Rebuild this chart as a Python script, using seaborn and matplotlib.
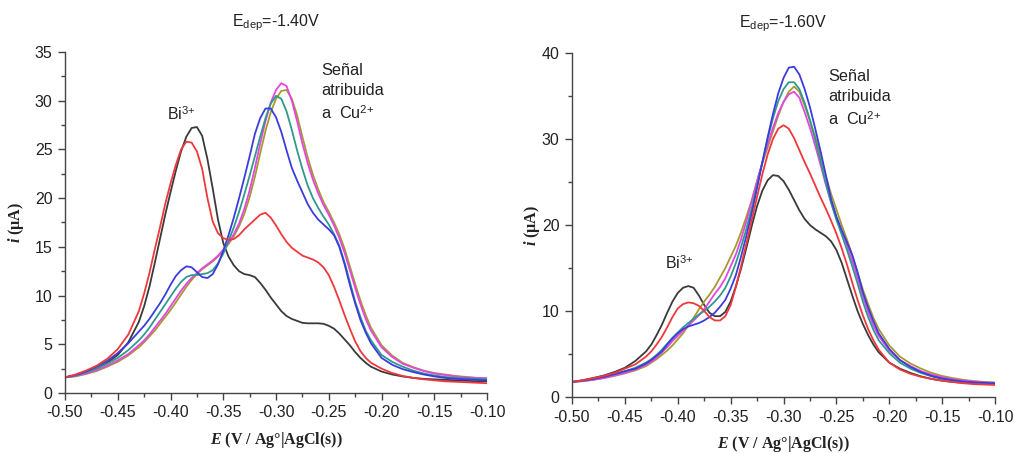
import numpy as np
import pandas as pd
import matplotlib
matplotlib.use("Agg")
import matplotlib.pyplot as plt
from matplotlib.ticker import MultipleLocator, FormatStrFormatter
import seaborn as sns

# ---------------- data ----------------
E = [-0.50, -0.49, -0.48, -0.47, -0.46, -0.45, -0.44, -0.43,
     -0.425, -0.420, -0.415, -0.410, -0.405, -0.400, -0.395, -0.390, -0.385, -0.380,
     -0.375, -0.370, -0.365, -0.360, -0.355, -0.350, -0.345, -0.340, -0.335, -0.330,
     -0.325, -0.320, -0.315, -0.310, -0.305, -0.300, -0.295, -0.290, -0.285, -0.280,
     -0.275, -0.270, -0.265, -0.260, -0.255, -0.250, -0.245, -0.240, -0.235, -0.230,
     -0.225, -0.220, -0.215,
     -0.21, -0.20, -0.19, -0.18, -0.17, -0.16, -0.15, -0.14, -0.13, -0.12, -0.11, -0.10]

# Edep = -1.40 V
L_black = [1.6, 1.8, 2.1, 2.5, 3.1, 3.9, 5.2, 7.3,
           8.9, 10.9, 13.3, 15.8, 18.3, 20.6, 22.8, 24.8, 26.3, 27.2,
           27.3, 26.4, 24.0, 21.0, 17.8, 15.4, 14.0, 13.1, 12.5, 12.2,
           12.1, 11.9, 11.3, 10.6, 9.8, 9.1, 8.4, 7.9, 7.6, 7.4,
           7.2, 7.15, 7.15, 7.15, 7.1, 6.9, 6.6, 6.1, 5.5, 4.9,
           4.2, 3.6, 3.1,
           2.7, 2.2, 1.9, 1.7, 1.55, 1.45, 1.4, 1.35, 1.3, 1.25, 1.2, 1.2]
L_red = [1.6, 1.9, 2.3, 2.8, 3.5, 4.5, 6.0, 8.4,
         10.2, 12.3, 14.7, 17.0, 19.4, 21.5, 23.4, 25.0, 25.8, 25.7,
         24.8, 23.0, 20.0, 17.6, 16.4, 15.9, 15.7, 15.8, 16.2, 16.8,
         17.3, 17.8, 18.3, 18.5, 18.0, 17.2, 16.3, 15.5, 14.9, 14.5,
         14.1, 13.9, 13.7, 13.4, 12.9, 12.1, 10.9, 9.5, 8.0, 6.6,
         5.3, 4.3, 3.6,
         3.1, 2.5, 2.05, 1.75, 1.55, 1.4, 1.3, 1.2, 1.15, 1.1, 1.05, 1.0]
L_blue = [1.6, 1.85, 2.2, 2.7, 3.3, 4.1, 5.1, 6.3,
          6.9, 7.6, 8.4, 9.2, 10.1, 11.1, 12.0, 12.6, 13.0, 12.9,
          12.4, 11.9, 11.8, 12.2, 13.2, 14.6, 16.2, 18.0, 20.0, 22.1,
          24.3, 26.6, 28.2, 29.2, 29.2, 28.3, 26.8, 24.9, 23.1, 21.8,
          20.6, 19.4, 18.5, 17.8, 17.3, 16.8, 16.2, 15.0, 13.2, 11.1,
          9.2, 7.5, 6.2,
          5.1, 3.6, 2.9, 2.45, 2.15, 1.9, 1.7, 1.55, 1.45, 1.4, 1.35, 1.3]
L_teal = [1.6, 1.8, 2.1, 2.5, 3.0, 3.6, 4.4, 5.4,
          6.0, 6.7, 7.5, 8.3, 9.1, 9.9, 10.7, 11.4, 11.9, 12.1,
          12.1, 12.2, 12.3, 12.6, 13.3, 14.3, 15.6, 17.0, 18.6, 20.4,
          22.3, 24.3, 26.3, 28.2, 29.7, 30.5, 30.2, 28.9, 27.0, 24.9,
          23.0, 21.3, 20.0, 19.0, 18.1, 17.3, 16.3, 15.1, 13.4, 11.4,
          9.4, 7.8, 6.4,
          5.4, 3.9, 3.2, 2.7, 2.3, 2.0, 1.8, 1.65, 1.55, 1.5, 1.45, 1.4]
L_magenta = [1.6, 1.75, 2.0, 2.35, 2.8, 3.35, 4.0, 4.9,
             5.4, 6.0, 6.7, 7.4, 8.1, 8.9, 9.7, 10.5, 11.2, 11.8,
             12.3, 12.8, 13.2, 13.6, 14.1, 14.7, 15.4, 16.3, 17.4, 18.9,
             20.8, 23.1, 25.6, 27.9, 29.8, 31.1, 31.8, 31.5, 30.0, 27.9,
             25.6, 23.6, 21.9, 20.5, 19.3, 18.3, 17.2, 15.9, 14.4, 12.6,
             10.8, 9.1, 7.6,
             6.4, 4.7, 3.7, 3.0, 2.6, 2.25, 2.0, 1.85, 1.7, 1.6, 1.55, 1.5]
L_olive = [1.6, 1.7, 1.95, 2.25, 2.7, 3.2, 3.85, 4.7,
           5.2, 5.8, 6.4, 7.1, 7.8, 8.5, 9.3, 10.1, 10.9, 11.6,
           12.2, 12.7, 13.1, 13.5, 14.0, 14.6, 15.3, 16.1, 17.1, 18.4,
           20.1, 22.2, 24.6, 26.9, 28.8, 30.2, 31.0, 31.1, 30.2, 28.5,
           26.3, 24.2, 22.4, 20.9, 19.6, 18.6, 17.5, 16.3, 14.8, 13.0,
           11.2, 9.5, 8.0,
           6.7, 4.9, 3.85, 3.1, 2.65, 2.3, 2.05, 1.9, 1.75, 1.65, 1.55, 1.5]

# Edep = -1.60 V
R_black = [1.75, 1.95, 2.2, 2.5, 2.9, 3.4, 4.2, 5.3,
           6.1, 7.2, 8.4, 9.8, 11.1, 12.1, 12.7, 12.9, 12.7, 11.8,
           10.7, 9.8, 9.4, 9.4, 9.9, 11.1, 12.9, 15.0, 17.4, 19.9,
           22.2, 24.0, 25.2, 25.8, 25.7, 25.1, 24.1, 22.9, 21.7, 20.7,
           20.0, 19.5, 19.1, 18.7, 18.1, 17.1, 15.6, 13.7, 11.8, 10.0,
           8.5, 7.2, 6.1,
           5.2, 4.0, 3.3, 2.8, 2.4, 2.1, 1.9, 1.75, 1.65, 1.6, 1.55, 1.5]
R_red = [1.75, 1.95, 2.2, 2.45, 2.8, 3.3, 3.8, 4.7,
         5.3, 6.1, 7.0, 8.1, 9.3, 10.3, 10.8, 11.0, 10.9, 10.6,
         10.0, 9.3, 8.9, 8.9, 9.4, 10.7, 12.8, 15.3, 17.9, 20.6,
         23.3, 25.9, 28.2, 30.0, 31.2, 31.6, 31.2, 30.1, 28.7, 27.3,
         26.0, 24.6, 23.2, 21.9, 20.5, 19.0, 17.3, 15.4, 13.3, 11.3,
         9.5, 7.9, 6.6,
         5.5, 4.0, 3.2, 2.7, 2.35, 2.1, 1.9, 1.75, 1.6, 1.5, 1.45, 1.4]
R_blue = [1.75, 1.9, 2.1, 2.35, 2.65, 3.0, 3.3, 3.9,
          4.3, 4.8, 5.3, 6.1, 6.8, 7.4, 7.9, 8.2, 8.4, 8.6,
          8.9, 9.3, 9.8, 10.5, 11.3, 12.6, 14.2, 16.4, 18.8, 21.4,
          24.3, 27.3, 30.2, 32.9, 35.3, 37.1, 38.3, 38.4, 37.5, 35.8,
          33.7, 31.2, 28.6, 25.8, 23.0, 21.0, 19.4, 18.0, 16.5, 14.5,
          12.2, 10.4, 8.8,
          7.4, 5.6, 4.3, 3.5, 2.9, 2.45, 2.15, 1.95, 1.8, 1.7, 1.65, 1.6]
R_teal = [1.75, 1.9, 2.1, 2.35, 2.65, 3.0, 3.4, 4.0,
          4.4, 4.9, 5.5, 6.2, 6.9, 7.5, 8.1, 8.6, 9.1, 9.6,
          10.0, 10.5, 11.1, 11.8, 12.7, 14.0, 15.6, 17.5, 19.6, 22.0,
          24.6, 27.3, 30.0, 32.4, 34.4, 35.8, 36.6, 36.6, 35.8, 34.2,
          32.2, 29.9, 27.4, 24.9, 22.6, 20.6, 18.9, 17.1, 15.2, 13.2,
          11.1, 9.3, 7.8,
          6.6, 5.1, 4.0, 3.3, 2.8, 2.4, 2.1, 1.9, 1.75, 1.65, 1.55, 1.5]
R_magenta = [1.75, 1.85, 2.0, 2.2, 2.5, 2.8, 3.2, 3.75,
             4.1, 4.6, 5.2, 5.8, 6.5, 7.1, 7.7, 8.3, 8.9, 9.5,
             10.2, 11.1, 12.0, 12.8, 13.8, 15.2, 16.6, 18.4, 20.5, 22.8,
             25.1, 27.3, 29.4, 31.3, 33.0, 34.3, 35.2, 35.5, 34.8, 33.1,
             31.3, 29.2, 27.0, 24.7, 22.6, 20.8, 19.2, 17.6, 15.8, 13.8,
             11.7, 9.9, 8.3,
             7.1, 5.4, 4.3, 3.6, 3.0, 2.6, 2.3, 2.05, 1.9, 1.8, 1.7, 1.6]
R_olive = [1.75, 1.85, 2.0, 2.2, 2.45, 2.75, 3.1, 3.6,
           4.0, 4.4, 4.9, 5.4, 6.0, 6.7, 7.4, 8.3, 9.2, 10.2,
           11.1, 11.9, 12.8, 13.9, 15.0, 16.3, 17.6, 19.2, 21.0, 22.9,
           25.1, 27.2, 29.0, 30.9, 32.7, 34.3, 35.5, 36.1, 35.5, 33.9,
           32.1, 30.3, 28.1, 25.7, 23.6, 21.8, 20.0, 18.3, 16.5, 14.5,
           12.5, 10.8, 9.2,
           7.9, 6.0, 4.7, 3.9, 3.3, 2.8, 2.45, 2.2, 2.0, 1.85, 1.75, 1.7]

series_names = ["black", "olive", "magenta", "teal", "blue", "red"]
left_data = {"black": L_black, "olive": L_olive, "magenta": L_magenta,
             "teal": L_teal, "blue": L_blue, "red": L_red}
right_data = {"black": R_black, "olive": R_olive, "magenta": R_magenta,
              "teal": R_teal, "blue": R_blue, "red": R_red}
titles = [r"E$_{\mathrm{dep}}$=-1.40V", r"E$_{\mathrm{dep}}$=-1.60V"]
bi_label = r"Bi$^{\mathrm{3{+}}}$"
cu_label = "Señal\natribuida\na  Cu$^{\\mathrm{2{+}}}$"
palette = {"black": "#3a3a3a", "red": "#f0383c", "blue": "#3c3cdc",
           "teal": "#2f9a8c", "magenta": "#e645e6", "olive": "#a39b2e"}

# ---------------- style ----------------
sns.set_theme(style="ticks")
plt.rcParams["font.family"] = ["Liberation Sans", "DejaVu Sans"]
plt.rcParams["mathtext.fontset"] = "custom"
plt.rcParams["mathtext.rm"] = "Liberation Sans"
plt.rcParams["mathtext.it"] = "Liberation Serif:italic:bold"
plt.rcParams["mathtext.bf"] = "Liberation Sans:bold"


def long_df(d):
    frames = [pd.DataFrame({"E": E, "i": d[k], "serie": k}) for k in series_names]
    return pd.concat(frames, ignore_index=True)


fig = plt.figure(figsize=(10.14, 4.53), dpi=100)
axL = fig.add_axes([0.0641, 0.1325, 0.4162, 0.7527])
axR = fig.add_axes([0.5641, 0.1236, 0.4172, 0.7594])

panels = [(axL, left_data, 35, 5, 2.5, 6), (axR, right_data, 40, 10, 5, 0)]
for (ax, d, ymax, ymaj, ymin, ypad), title in zip(panels, titles):
    sns.lineplot(data=long_df(d), x="E", y="i", hue="serie", palette=palette,
                 hue_order=series_names, estimator=None, sort=False,
                 linewidth=1.3, legend=False, ax=ax)
    ax.set_xlim(-0.50, -0.10)
    ax.set_ylim(0, ymax)
    ax.xaxis.set_major_locator(MultipleLocator(0.05))
    ax.xaxis.set_minor_locator(MultipleLocator(0.025))
    ax.xaxis.set_major_formatter(FormatStrFormatter("%.2f"))
    ax.yaxis.set_major_locator(MultipleLocator(ymaj))
    ax.yaxis.set_minor_locator(MultipleLocator(ymin))
    for sp in ["top", "right"]:
        ax.spines[sp].set_visible(False)
    for sp in ["left", "bottom"]:
        ax.spines[sp].set_color("#444444")
        ax.spines[sp].set_linewidth(1.0)
    ax.tick_params(which="major", direction="out", length=5, width=1,
                   color="#444444", labelsize=11.5, labelcolor="#222222", pad=4)
    ax.tick_params(which="minor", direction="out", length=3, width=1, color="#444444")
    ax.set_xlabel(r"$\mathit{E}$ (V / Ag°|AgCl(s))", fontfamily="Liberation Serif",
                  fontweight="bold", fontsize=11.5, labelpad=7, color="#222222")
    ax.set_ylabel(r"$\mathit{i}$ (µA)", fontfamily="Liberation Serif",
                  fontweight="bold", fontsize=11.5, labelpad=ypad, color="#222222")
    ax.set_title(title, fontsize=11.5, pad=18, color="#222222")

axL.text(-0.403, 28.6, bi_label, fontsize=11.5, color="#222222", va="center")
axL.text(-0.257, 33.9, cu_label, fontsize=11.7, color="#222222",
         linespacing=1.4, va="top")
axR.text(-0.412, 15.6, bi_label, fontsize=11.5, color="#222222", va="center")
axR.text(-0.258, 38.1, cu_label, fontsize=11.7, color="#222222",
         linespacing=1.4, va="top")

fig.savefig("out.png", dpi=100, facecolor="white")
